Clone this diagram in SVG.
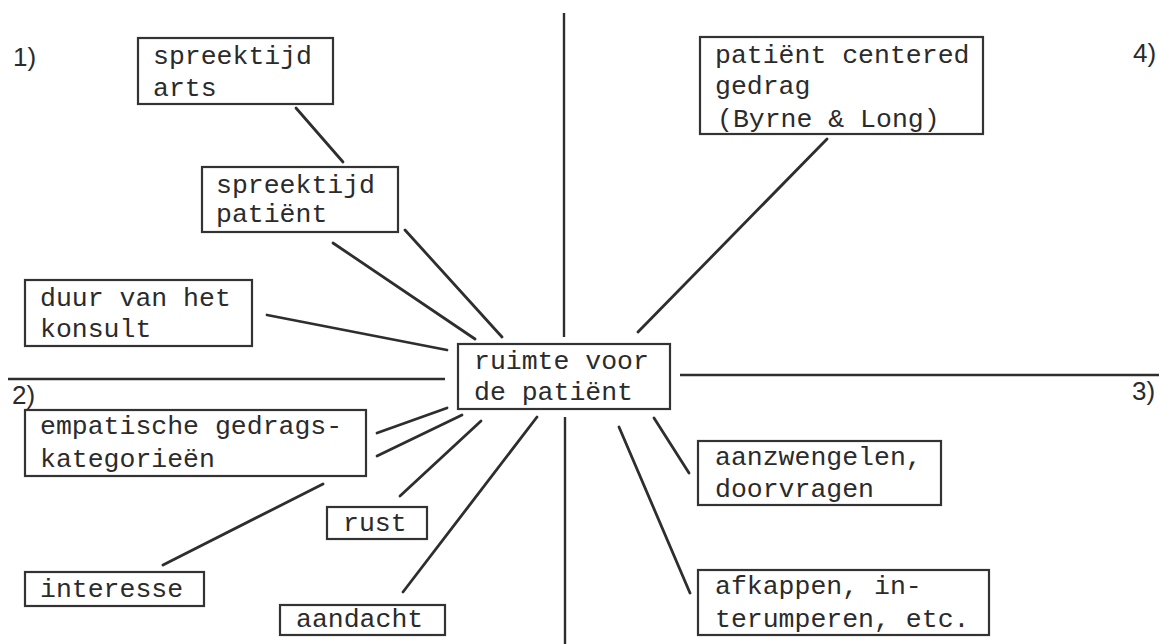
<svg xmlns="http://www.w3.org/2000/svg" width="1159" height="644" viewBox="0 0 1159 644">
<style>
  .box { fill: #ffffff; stroke: #333333; stroke-width: 2.2; }
  .t { font-family: "Liberation Mono", "DejaVu Sans Mono", monospace; font-size: 26.5px; fill: #2b2b2b; }
  .q { font-family: "Liberation Sans", Arial, sans-serif; font-size: 26px; fill: #2b2b2b; }
  .axis { stroke: #2e2e2e; stroke-width: 2.4; fill: none; }
  .conn line { stroke: #2e2e2e; stroke-width: 2.8; stroke-linecap: round; }
</style>
<rect x="0" y="0" width="1159" height="644" fill="#ffffff"/>

<g id="axes">
  <line class="axis" x1="564" y1="13" x2="564" y2="337"/>
  <line class="axis" x1="565" y1="417" x2="565" y2="644"/>
  <line class="axis" x1="8" y1="379" x2="445" y2="379"/>
  <line class="axis" x1="680" y1="375" x2="1159" y2="375"/>
</g>

<g id="quadrant-labels">
  <text class="q" x="13" y="66">1)</text>
  <text class="q" x="12" y="404">2)</text>
  <text class="q" x="1132" y="400">3)</text>
  <text class="q" x="1133" y="62">4)</text>
</g>

<g id="connectors" class="conn">
  <line x1="296" y1="108" x2="343" y2="162"/>
  <line x1="333" y1="243" x2="475" y2="339"/>
  <line x1="405" y1="230" x2="502" y2="337"/>
  <line x1="267" y1="315" x2="447" y2="350"/>
  <line x1="827" y1="139" x2="638" y2="332"/>
  <line x1="377" y1="433" x2="447" y2="408"/>
  <line x1="377" y1="456" x2="462" y2="415"/>
  <line x1="400" y1="496" x2="481" y2="421"/>
  <line x1="403" y1="592" x2="537" y2="417"/>
  <line x1="163" y1="565" x2="323" y2="484"/>
  <line x1="654" y1="418" x2="689" y2="473"/>
  <line x1="619" y1="427" x2="690" y2="593"/>
</g>

<g id="node-spreektijd-arts">
  <rect class="box" x="138" y="38" width="195" height="66"/>
  <text class="t" x="153" y="64">spreektijd</text>
  <text class="t" x="153" y="96">arts</text>
</g>

<g id="node-spreektijd-patient">
  <rect class="box" x="202" y="167" width="196" height="65"/>
  <text class="t" x="216" y="193">spreektijd</text>
  <text class="t" x="216" y="222">patiënt</text>
</g>

<g id="node-duur">
  <rect class="box" x="25" y="280" width="227" height="66"/>
  <text class="t" x="40" y="306">duur van het</text>
  <text class="t" x="40" y="337">konsult</text>
</g>

<g id="node-patient-centered">
  <rect class="box" x="700" y="37" width="283" height="97"/>
  <text class="t" x="715" y="63">patiënt centered</text>
  <text class="t" x="715" y="94">gedrag</text>
  <text class="t" x="717" y="127">(Byrne &amp; Long)</text>
</g>

<g id="node-ruimte">
  <rect class="box" x="458" y="344" width="212" height="65"/>
  <text class="t" x="474" y="369">ruimte voor</text>
  <text class="t" x="474" y="400">de patiënt</text>
</g>

<g id="node-empatische">
  <rect class="box" x="25" y="410" width="341" height="66"/>
  <text class="t" x="40" y="434">empatische gedrags-</text>
  <text class="t" x="40" y="467">kategorieën</text>
</g>

<g id="node-rust">
  <rect class="box" x="327" y="507" width="100" height="32"/>
  <text class="t" x="343" y="531">rust</text>
</g>

<g id="node-interesse">
  <rect class="box" x="25" y="572" width="179" height="34"/>
  <text class="t" x="40" y="597">interesse</text>
</g>

<g id="node-aandacht">
  <rect class="box" x="280" y="605" width="165" height="30"/>
  <text class="t" x="296" y="627">aandacht</text>
</g>

<g id="node-aanzwengelen">
  <rect class="box" x="698" y="441" width="243" height="64"/>
  <text class="t" x="715" y="465">aanzwengelen,</text>
  <text class="t" x="715" y="497">doorvragen</text>
</g>

<g id="node-afkappen">
  <rect class="box" x="698" y="570" width="291" height="65"/>
  <text class="t" x="715" y="594">afkappen, in-</text>
  <text class="t" x="715" y="627">terumperen, etc.</text>
</g>
</svg>
